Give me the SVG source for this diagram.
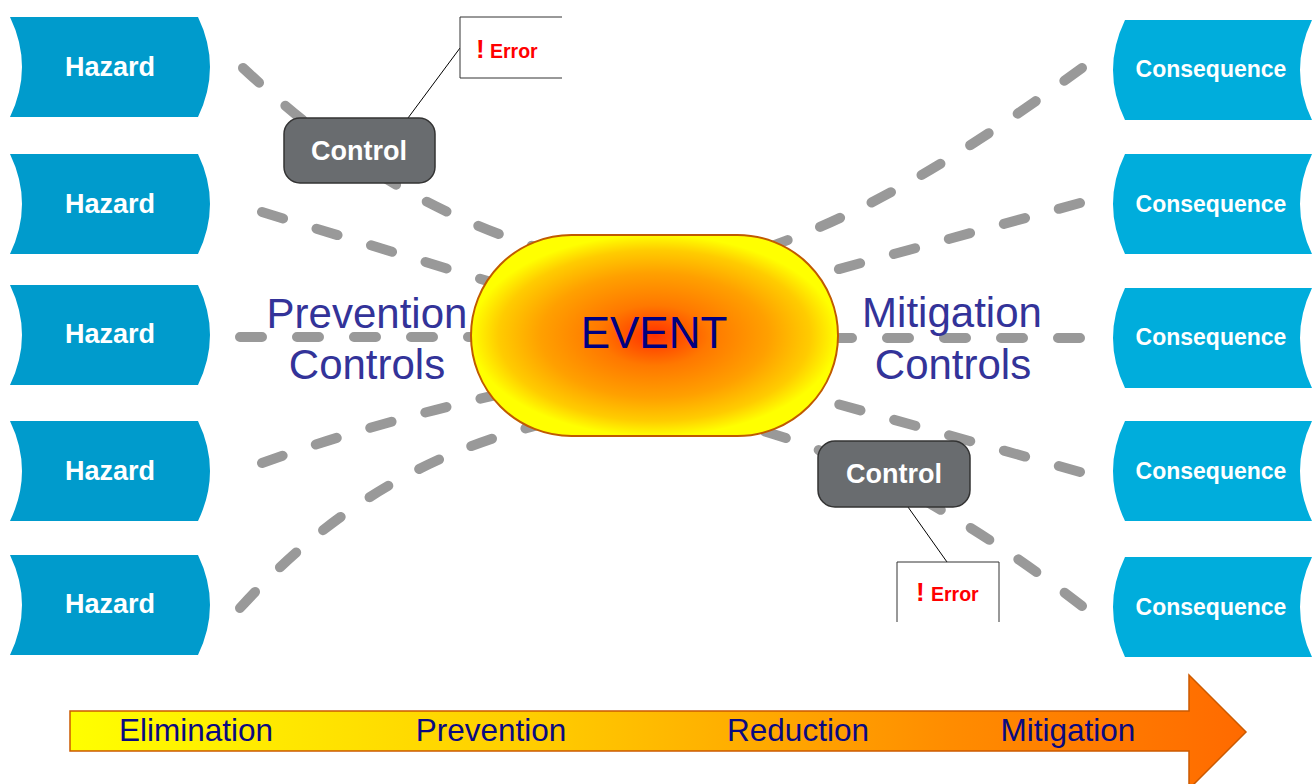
<svg xmlns="http://www.w3.org/2000/svg" width="1315" height="784" viewBox="0 0 1315 784">
<defs>
<style>
.hz{fill:#009BCC}
.cq{fill:#00ADDC}
.hzt{font-family:"Liberation Sans",Arial,sans-serif;font-weight:bold;font-size:27px;fill:#fff;text-anchor:middle}
.cqt{font-family:"Liberation Sans",Arial,sans-serif;font-weight:bold;font-size:23px;fill:#fff;text-anchor:middle}
.ln{fill:none;stroke:#999;stroke-width:10;stroke-linecap:round;stroke-dasharray:22 35}
.ctl{fill:#696C6F;stroke:#333;stroke-width:1.5}
.ctlt{font-family:"Liberation Sans",Arial,sans-serif;font-weight:bold;font-size:27px;fill:#fff;text-anchor:middle}
.big{font-family:"Liberation Sans",Arial,sans-serif;font-size:42px;fill:#333399;text-anchor:middle}
.arr{font-family:"Liberation Sans",Arial,sans-serif;font-size:31.5px;fill:#0A0A80;text-anchor:middle}
.err{font-family:"Liberation Sans",Arial,sans-serif;font-weight:bold;fill:#FF0000}
.ebox{fill:#fff;stroke:#333;stroke-width:1}
.callout{stroke:#000;stroke-width:1;fill:none}
</style>
<radialGradient id="evg" cx="0.5" cy="0.5" r="0.5">
<stop offset="0" stop-color="#FF3000"/>
<stop offset="0.3" stop-color="#FF7800"/>
<stop offset="0.62" stop-color="#FFA000"/>
<stop offset="0.85" stop-color="#FFCC00"/>
<stop offset="1" stop-color="#FFFF00"/>
</radialGradient>
<linearGradient id="arg" x1="0" y1="0" x2="1" y2="0">
<stop offset="0" stop-color="#FFFF00"/>
<stop offset="0.4" stop-color="#FFCC00"/>
<stop offset="0.75" stop-color="#FF8C00"/>
<stop offset="1" stop-color="#FF6A00"/>
</linearGradient>
</defs>
<rect width="1315" height="784" fill="#fff"/>

<g id="connectors">
<path class="ln" d="M243,68 C310,130 400,205 545,250"/>
<path class="ln" d="M262,212 L540,297"/>
<path class="ln" d="M240,337 L540,337"/>
<path class="ln" d="M262,463 Q380,420 540,385"/>
<path class="ln" d="M240,608 C320,520 420,450 560,420"/>
<path class="ln" d="M1082,68 C990,135 880,210 760,250"/>
<path class="ln" d="M1080,203 L770,288"/>
<path class="ln" d="M1080,338 L770,338"/>
<path class="ln" d="M1080,472 L770,385"/>
<path class="ln" d="M1082,606 C990,535 880,465 760,430"/>
<path class="callout" d="M408,118 L460,48"/>
<path class="callout" d="M908,507 L947,562"/>
</g>

<g id="hazard1"><path class="hz" d="M10,17 L198,17 Q222,67 198,117 L10,117 Q34,67 10,17 Z"/><text class="hzt" x="110" y="76">Hazard</text></g>
<g id="hazard2"><path class="hz" d="M10,154 L198,154 Q222,204 198,254 L10,254 Q34,204 10,154 Z"/><text class="hzt" x="110" y="213">Hazard</text></g>
<g id="hazard3"><path class="hz" d="M10,285 L198,285 Q222,335 198,385 L10,385 Q34,335 10,285 Z"/><text class="hzt" x="110" y="343">Hazard</text></g>
<g id="hazard4"><path class="hz" d="M10,421 L198,421 Q222,471 198,521 L10,521 Q34,471 10,421 Z"/><text class="hzt" x="110" y="480">Hazard</text></g>
<g id="hazard5"><path class="hz" d="M10,555 L198,555 Q222,605 198,655 L10,655 Q34,605 10,555 Z"/><text class="hzt" x="110" y="613">Hazard</text></g>

<g id="consequence1"><path class="cq" d="M1125,20 L1312,20 Q1288,70 1312,120 L1125,120 Q1101,70 1125,20 Z"/><text class="cqt" x="1211" y="77">Consequence</text></g>
<g id="consequence2"><path class="cq" d="M1125,154 L1312,154 Q1288,204 1312,254 L1125,254 Q1101,204 1125,154 Z"/><text class="cqt" x="1211" y="212">Consequence</text></g>
<g id="consequence3"><path class="cq" d="M1125,288 L1312,288 Q1288,338 1312,388 L1125,388 Q1101,338 1125,288 Z"/><text class="cqt" x="1211" y="345">Consequence</text></g>
<g id="consequence4"><path class="cq" d="M1125,421 L1312,421 Q1288,471 1312,521 L1125,521 Q1101,471 1125,421 Z"/><text class="cqt" x="1211" y="479">Consequence</text></g>
<g id="consequence5"><path class="cq" d="M1125,557 L1312,557 Q1288,607 1312,657 L1125,657 Q1101,607 1125,557 Z"/><text class="cqt" x="1211" y="615">Consequence</text></g>

<g id="control1"><rect class="ctl" x="284" y="118" width="151" height="65" rx="16"/><text class="ctlt" x="359" y="160">Control</text></g>
<g id="control2"><rect class="ctl" x="818" y="441" width="152" height="66" rx="17"/><text class="ctlt" x="894" y="483">Control</text></g>

<g id="error1"><rect x="460" y="17" width="102" height="61" fill="#fff"/><path class="ebox" fill="none" d="M562,17 H460 V78 H562"/><text class="err" y="58"><tspan x="476" font-size="26">!</tspan><tspan x="490" font-size="19.5">Error</tspan></text></g>
<g id="error2"><rect x="897" y="562" width="102" height="60" fill="#fff"/><path class="ebox" fill="none" d="M897,622 V562 H999 V622"/><text class="err" y="601"><tspan x="916" font-size="26">!</tspan><tspan x="931" font-size="19.5">Error</tspan></text></g>

<g id="event"><rect x="471" y="235" width="367" height="201" rx="100.5" fill="url(#evg)" stroke="#C05A00" stroke-width="2"/><text x="654" y="348" font-family="Liberation Sans, Arial, sans-serif" font-size="44" fill="#000080" text-anchor="middle">EVENT</text></g>

<g id="prevention-label"><text class="big" x="367" y="328">Prevention</text><text class="big" x="367" y="379">Controls</text></g>
<g id="mitigation-label"><text class="big" x="952" y="327">Mitigation</text><text class="big" x="953" y="379">Controls</text></g>

<g id="scale-arrow"><path d="M70,711 H1189 V675 L1246,732 L1189,789 V751 H70 Z" fill="url(#arg)" stroke="#CC5A00" stroke-width="1.5"/>
<text class="arr" x="196" y="741">Elimination</text>
<text class="arr" x="491" y="741">Prevention</text>
<text class="arr" x="798" y="741">Reduction</text>
<text class="arr" x="1068" y="741">Mitigation</text></g>
</svg>
